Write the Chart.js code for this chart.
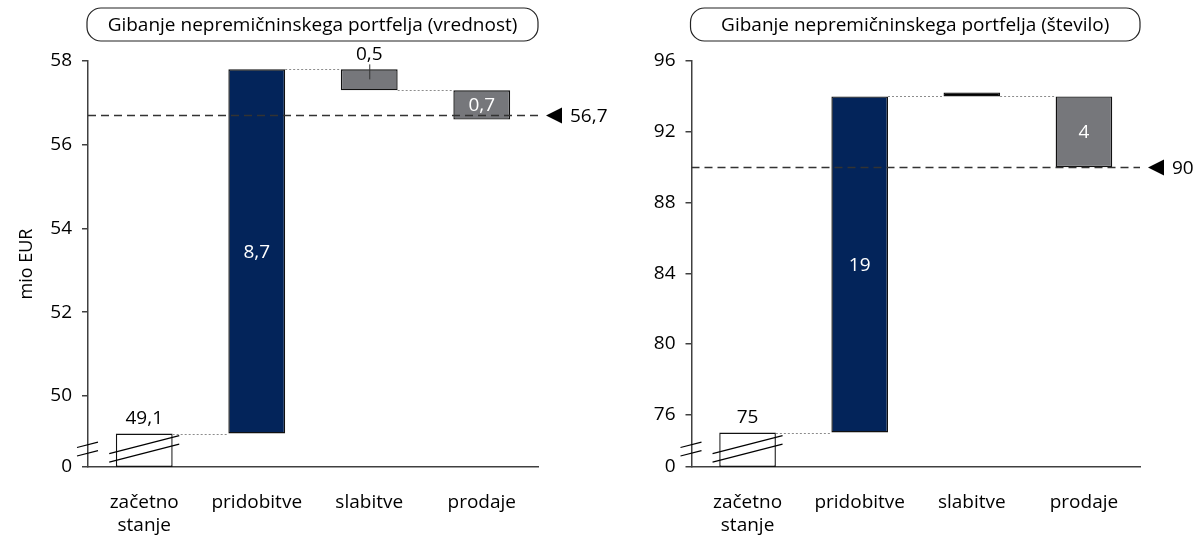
<!DOCTYPE html>
<html>
<head>
<meta charset="utf-8">
<script src="https://cdn.jsdelivr.net/npm/chart.js@4.4.1/dist/chart.umd.min.js"></script>
<style>
  html, body { margin: 0; padding: 0; background: #fff; }
  #wrap { position: relative; width: 1204px; height: 537px; overflow: hidden; }
  .box { position: absolute; top: 0; height: 537px; }
</style>
</head>
<body>
<div id="wrap">
  <div class="box" style="left:0;width:640px"><canvas id="valueChart" width="640" height="537"></canvas></div>
  <div class="box" style="left:602px;width:602px"><canvas id="countChart" width="602" height="537"></canvas></div>
</div>
<script>
const categories = [['začetno', 'stanje'], 'pridobitve', 'slabitve', 'prodaje'];

// vrednost, mio EUR
const valueStart = 49.1;
const valueChanges = [8.7, -0.5, -0.7];
const valueEnd = 56.7;
const valueLabels = ['49,1', '8,7', '0,5', '0,7'];
const valueEndLabel = '56,7';
const valueTicks = [50, 52, 54, 56, 58];
const valueAxisBreak = 48.3;   // value shown as "0" at the bottom of the broken axis

// število
const countStart = 75;
const countChanges = [19, 0, -4];
const countEnd = 90;
const countLabels = ['75', '19', '', '4'];
const countEndLabel = '90';
const countTicks = [76, 80, 84, 88, 92, 96];
const countAxisBreak = 73.05;

const FONT = "'Open Sans', sans-serif";
const AXIS = '#404040';
const NAVY = '#03245a';
const GREY = '#76777b';

Chart.defaults.font.family = FONT;
Chart.defaults.color = '#000';

function floating(start, changes, axisBreak) {
  const out = [[axisBreak, start]];
  let level = start;
  changes.forEach(c => {
    out.push([level, level + c]);
    level += c;
  });
  return out;
}

function colors(changes) {
  return ['#ffffff'].concat(changes.map(c => c > 0 ? NAVY : c < 0 ? GREY : '#000'));
}

function line(ctx, x1, y1, x2, y2) {
  ctx.beginPath();
  ctx.moveTo(x1, y1);
  ctx.lineTo(x2, y2);
  ctx.stroke();
}

const waterfall = {
  id: 'waterfall',
  afterDraw(chart, args, opts) {
    const { ctx, chartArea: area, scales: { y } } = chart;
    const bars = chart.getDatasetMeta(0).data;
    const data = chart.data.datasets[0].data;
    ctx.save();

    // title box
    const tl = area.left - 1, tr = area.right, tt = 8, tb = 41, r = 14;
    ctx.strokeStyle = '#222';
    ctx.lineWidth = 1.2;
    ctx.beginPath();
    ctx.roundRect(tl, tt, tr - tl, tb - tt, r);
    ctx.stroke();
    ctx.font = '19px ' + FONT;
    ctx.fillStyle = '#000';
    ctx.textAlign = 'center';
    ctx.textBaseline = 'middle';
    ctx.fillText(opts.title, (tl + tr) / 2, (tt + tb) / 2 + 1);

    // dotted connectors
    ctx.strokeStyle = '#8c8c8c';
    ctx.lineWidth = 1;
    ctx.setLineDash([2, 2]);
    for (let i = 0; i < bars.length - 1; i++) {
      const yy = Math.round(y.getPixelForValue(data[i][1])) + 0.5;
      line(ctx, bars[i].x + bars[i].width / 2, yy, bars[i + 1].x - bars[i + 1].width / 2, yy);
    }

    // end level
    const ye = Math.round(y.getPixelForValue(opts.endValue)) + 0.5;
    ctx.strokeStyle = '#333';
    ctx.lineWidth = 1.3;
    ctx.setLineDash([8, 5]);
    line(ctx, area.left, ye, area.right, ye);
    ctx.setLineDash([]);
    ctx.fillStyle = '#000';
    ctx.beginPath();
    ctx.moveTo(area.right + 8, ye);
    ctx.lineTo(area.right + 24, ye - 8);
    ctx.lineTo(area.right + 24, ye + 8);
    ctx.closePath();
    ctx.fill();
    ctx.font = '19px ' + FONT;
    ctx.textAlign = 'left';
    ctx.fillText(opts.endLabel, area.right + 32, ye + 1);

    // bar labels
    ctx.textAlign = 'center';
    opts.labels.forEach((txt, i) => {
      if (!txt) return;
      const b = bars[i];
      const top = Math.min(b.y, b.base);
      const mode = opts.modes[i];
      if (mode === 'inside') {
        ctx.fillStyle = '#fff';
        ctx.fillText(txt, b.x, (b.y + b.base) / 2 + 1);
      } else {
        ctx.fillStyle = '#000';
        ctx.fillText(txt, b.x, top - 15);
        if (mode === 'leader') {
          ctx.strokeStyle = '#333';
          ctx.lineWidth = 1;
          line(ctx, b.x + 0.5, top - 5, b.x + 0.5, top + 10);
        }
      }
    });

    // axis break marks
    ctx.strokeStyle = '#000';
    ctx.lineWidth = 1.2;
    const slope = 0.257;
    [13.8, 22.3].forEach(off => {
      const yb = area.bottom - off;
      line(ctx, area.left - 11, yb + 11 * slope, area.left + 10, yb - 10 * slope);
      const cx = bars[0].x;
      line(ctx, cx - 35, yb + 35 * slope, cx + 35, yb - 35 * slope);
    });

    ctx.restore();
  }
};

function makeChart(id, cfg) {
  const data = floating(cfg.start, cfg.changes, cfg.axisBreak);
  return new Chart(document.getElementById(id), {
    type: 'bar',
    data: {
      labels: categories,
      datasets: [{
        data,
        backgroundColor: colors(cfg.changes),
        borderColor: '#111',
        borderWidth: 1.4,
        borderSkipped: false,
        minBarLength: 4,
        barPercentage: 0.505,
        categoryPercentage: 1
      }]
    },
    plugins: [waterfall],
    options: {
      responsive: false,
      animation: false,
      devicePixelRatio: 1,
      layout: { padding: { top: 61, right: cfg.padRight, left: 0, bottom: 0 } },
      plugins: {
        legend: { display: false },
        tooltip: { enabled: false },
        waterfall: {
          title: cfg.title,
          endValue: cfg.end,
          endLabel: cfg.endLabel,
          labels: cfg.labels,
          modes: cfg.modes
        }
      },
      scales: {
        x: {
          grid: { display: false, drawTicks: false },
          border: { color: AXIS, width: 1.5 },
          ticks: { padding: 24, font: { size: 19 }, color: '#000' },
          afterFit(s) { s.height = 70; }
        },
        y: {
          min: cfg.axisBreak,
          max: cfg.ticks[cfg.ticks.length - 1],
          afterBuildTicks(s) {
            s.ticks = [cfg.axisBreak].concat(cfg.ticks).map(v => ({ value: v }));
          },
          ticks: {
            padding: 10,
            font: { size: 19 },
            color: '#000',
            callback: (v, i) => i === 0 ? '0' : String(v)
          },
          grid: { drawOnChartArea: false, tickLength: 6, color: AXIS, lineWidth: 1.5 },
          border: { color: AXIS, width: 1.5 },
          title: {
            display: !!cfg.yTitle,
            text: cfg.yTitle,
            font: { size: 18 },
            color: '#000',
            padding: { top: 16, bottom: 0 }
          },
          afterFit(s) { s.width = cfg.axisWidth; }
        }
      }
    }
  });
}

makeChart('valueChart', {
  title: 'Gibanje nepremičninskega portfelja (vrednost)',
  yTitle: 'mio EUR',
  start: valueStart,
  changes: valueChanges,
  end: valueEnd,
  endLabel: valueEndLabel,
  labels: valueLabels,
  modes: ['above', 'inside', 'leader', 'inside'],
  ticks: valueTicks,
  axisBreak: valueAxisBreak,
  axisWidth: 88,
  padRight: 102
});

makeChart('countChart', {
  title: 'Gibanje nepremičninskega portfelja (število)',
  yTitle: '',
  start: countStart,
  changes: countChanges,
  end: countEnd,
  endLabel: countEndLabel,
  labels: countLabels,
  modes: ['above', 'inside', 'above', 'inside'],
  ticks: countTicks,
  axisBreak: countAxisBreak,
  axisWidth: 89.5,
  padRight: 64
});
</script>
</body>
</html>
